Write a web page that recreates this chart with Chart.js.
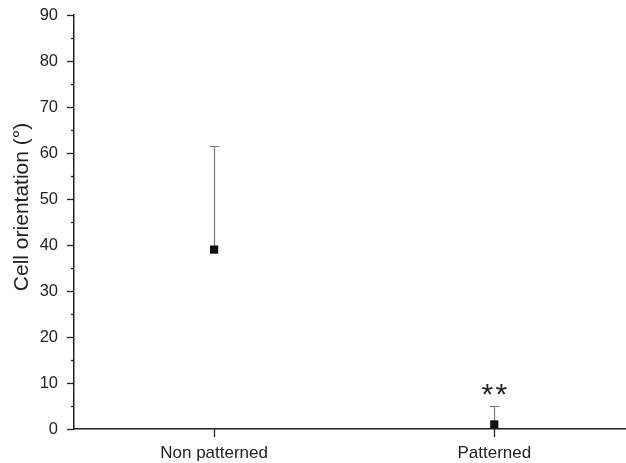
<!DOCTYPE html>
<html>
<head>
<meta charset="utf-8">
<script src="https://cdn.jsdelivr.net/npm/chart.js@4/dist/chart.umd.min.js"></script>
<style>
  html, body { margin: 0; padding: 0; background: #fff; }
  #wrap { width: 626px; height: 463px; }
</style>
</head>
<body>
<div id="wrap"><canvas id="c" width="626" height="463"></canvas></div>
<script>
// Groups and measured cell orientation (mean, upper error)
const categories = ['Non patterned', 'Patterned'];
const meanValues = [39, 1];
const errorValues = [22.5, 4];
const significance = ['', '**'];
const yAxisTitle = 'Cell orientation (°)';

const FONT = '"Liberation Sans", Arial, sans-serif';
const AXIS_COLOR = '#222';

const points = categories.map((c, i) => ({ x: i + 1, y: meanValues[i] }));

function noScalePadding(scale) {
  scale.paddingTop = 0;
  scale.paddingBottom = 0;
  scale.paddingLeft = 0;
  scale.paddingRight = 0;
}

const decorations = {
  id: 'decorations',
  beforeDatasetsDraw(chart) {
    const ctx = chart.ctx;
    const xs = chart.scales.x, ys = chart.scales.y;
    ctx.save();
    ctx.strokeStyle = '#7a7a7a';
    ctx.lineWidth = 1.2;
    points.forEach((p, i) => {
      const px = Math.round(xs.getPixelForValue(p.x)) + 0.5;
      const y0 = ys.getPixelForValue(meanValues[i]);
      const y1 = Math.round(ys.getPixelForValue(meanValues[i] + errorValues[i])) + 0.5;
      ctx.beginPath();
      ctx.moveTo(px, y0);
      ctx.lineTo(px, y1);
      ctx.moveTo(px - 5, y1);
      ctx.lineTo(px + 5, y1);
      ctx.stroke();
    });
    ctx.restore();
  },
  afterDraw(chart) {
    const ctx = chart.ctx;
    const xs = chart.scales.x, ys = chart.scales.y;
    const area = chart.chartArea;
    ctx.save();
    ctx.strokeStyle = AXIS_COLOR;
    ctx.lineWidth = 1.3;
    // y ticks: major every 10, minor every 5
    for (let v = ys.min; v <= ys.max; v += 5) {
      const py = Math.round(ys.getPixelForValue(v)) + 0.5;
      const len = (v % 10 === 0) ? 7 : 3;
      ctx.beginPath();
      ctx.moveTo(area.left - len, py);
      ctx.lineTo(area.left, py);
      ctx.stroke();
    }
    // x ticks at each category
    categories.forEach((c, i) => {
      const px = Math.round(xs.getPixelForValue(i + 1)) + 0.5;
      ctx.beginPath();
      ctx.moveTo(px, area.bottom);
      ctx.lineTo(px, area.bottom + 8);
      ctx.stroke();
    });
    // significance marks above the error bars, one glyph at a time
    ctx.fillStyle = '#222';
    ctx.font = '30px ' + FONT;
    ctx.textAlign = 'center';
    ctx.textBaseline = 'alphabetic';
    const pitch = 14;
    significance.forEach((s, i) => {
      if (!s) return;
      const px = xs.getPixelForValue(i + 1);
      const top = ys.getPixelForValue(meanValues[i] + errorValues[i]);
      const chars = s.split('');
      chars.forEach((ch, k) => {
        ctx.fillText(ch, px + (k - (chars.length - 1) / 2) * pitch, top - 2);
      });
    });
    // y axis title
    ctx.font = '21px ' + FONT;
    ctx.fillStyle = '#222';
    ctx.translate(22, 207);
    ctx.rotate(-Math.PI / 2);
    ctx.textBaseline = 'middle';
    ctx.fillText(yAxisTitle, 0, 0);
    ctx.restore();
  }
};

new Chart(document.getElementById('c'), {
  type: 'scatter',
  data: {
    datasets: [{
      data: points,
      pointStyle: 'rect',
      pointRadius: 5.8,
      pointHoverRadius: 5.8,
      borderWidth: 0,
      backgroundColor: '#111',
      clip: false
    }]
  },
  options: {
    responsive: false,
    animation: false,
    events: [],
    layout: { autoPadding: false, padding: { top: 15, left: 0, right: 0, bottom: 0 } },
    plugins: { legend: { display: false }, tooltip: { enabled: false } },
    scales: {
      x: {
        type: 'linear',
        min: 0.5,
        max: 2.47,
        afterBuildTicks(scale) {
          scale.ticks = categories.map((c, i) => ({ value: i + 1 }));
        },
        afterFit(scale) { scale.height = 34; noScalePadding(scale); },
        grid: { display: false, drawTicks: false, tickLength: 0 },
        border: { display: true, color: AXIS_COLOR, width: 1.5 },
        ticks: {
          autoSkip: false,
          maxRotation: 0,
          padding: 14,
          color: '#222',
          font: { family: FONT, size: 17 },
          callback: (v) => categories[Math.round(v) - 1] || ''
        }
      },
      y: {
        min: 0,
        max: 90,
        afterFit(scale) { scale.width = 74; noScalePadding(scale); },
        grid: { display: false, drawTicks: false, tickLength: 0 },
        border: { display: true, color: AXIS_COLOR, width: 1.5 },
        ticks: {
          stepSize: 10,
          padding: 16,
          color: '#222',
          font: { family: FONT, size: 16.5 }
        }
      }
    }
  },
  plugins: [decorations]
});
</script>
</body>
</html>
